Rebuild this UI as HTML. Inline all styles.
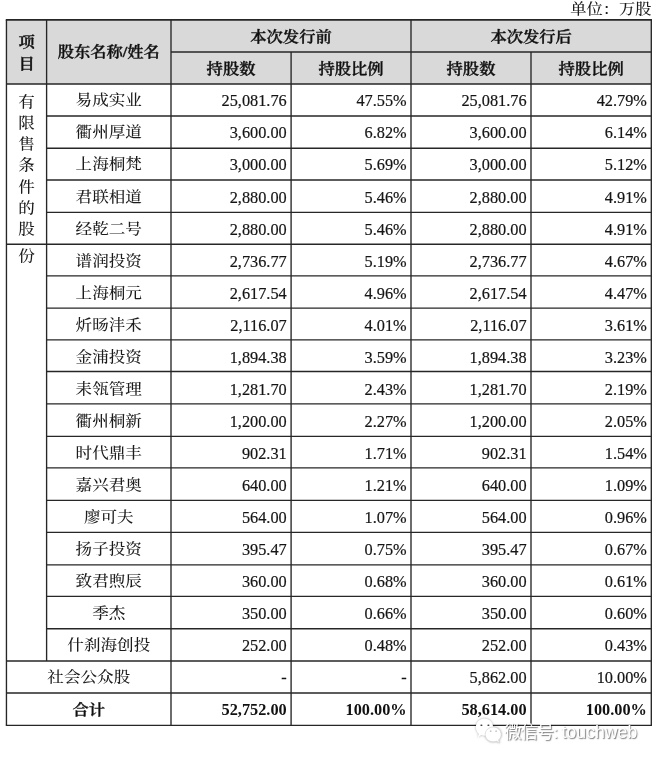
<!DOCTYPE html>
<html lang="zh-CN"><head><meta charset="utf-8"><title>股东持股表</title>
<style>
html,body{margin:0;padding:0;background:#fff;}
body{width:660px;height:761px;position:relative;overflow:hidden;
 font-family:"Liberation Serif","Noto Serif CJK SC",serif;font-size:16.3px;color:#222;}
#grid{position:absolute;left:0;top:0;}
.t{position:absolute;white-space:nowrap;line-height:22px;height:22px;}
.c{text-align:center;}
.r{text-align:right;}
.z{font-size:16.6px;font-weight:500;color:#1c1c1c;transform:scaleY(0.91);transform-origin:50% 9px;}
.b{font-weight:700;color:#111;}
.h{font-weight:600;-webkit-text-stroke:0.35px #111;transform:scaleY(0.94);transform-origin:50% 9px;}
.n{color:#151515;-webkit-text-stroke:0.2px #151515;}
.wm{position:absolute;white-space:nowrap;font-family:"Liberation Sans","Noto Sans CJK SC",sans-serif;}
</style></head><body>

<svg id="grid" width="660" height="761" viewBox="0 0 660 761">
<rect x="6.5" y="19.9" width="644.8" height="64.1" fill="#d9d9d9"/>
<line x1="5.78" y1="19.90" x2="651.97" y2="19.90" stroke="#262626" stroke-width="1.70"/>
<line x1="171.00" y1="52.00" x2="651.30" y2="52.00" stroke="#262626" stroke-width="1.70"/>
<line x1="6.45" y1="84.00" x2="651.30" y2="84.00" stroke="#262626" stroke-width="1.70"/>
<line x1="46.60" y1="116.00" x2="651.30" y2="116.00" stroke="#262626" stroke-width="1.35"/>
<line x1="46.60" y1="148.20" x2="651.30" y2="148.20" stroke="#262626" stroke-width="1.35"/>
<line x1="46.60" y1="180.00" x2="651.30" y2="180.00" stroke="#262626" stroke-width="1.35"/>
<line x1="46.60" y1="212.40" x2="651.30" y2="212.40" stroke="#262626" stroke-width="1.35"/>
<line x1="46.60" y1="244.20" x2="651.30" y2="244.20" stroke="#262626" stroke-width="1.35"/>
<line x1="46.60" y1="275.80" x2="651.30" y2="275.80" stroke="#262626" stroke-width="1.35"/>
<line x1="46.60" y1="308.10" x2="651.30" y2="308.10" stroke="#262626" stroke-width="1.35"/>
<line x1="46.60" y1="339.80" x2="651.30" y2="339.80" stroke="#262626" stroke-width="1.35"/>
<line x1="46.60" y1="371.50" x2="651.30" y2="371.50" stroke="#262626" stroke-width="1.35"/>
<line x1="46.60" y1="403.90" x2="651.30" y2="403.90" stroke="#262626" stroke-width="1.35"/>
<line x1="46.60" y1="436.30" x2="651.30" y2="436.30" stroke="#262626" stroke-width="1.35"/>
<line x1="46.60" y1="467.80" x2="651.30" y2="467.80" stroke="#262626" stroke-width="1.35"/>
<line x1="46.60" y1="500.30" x2="651.30" y2="500.30" stroke="#262626" stroke-width="1.35"/>
<line x1="46.60" y1="532.40" x2="651.30" y2="532.40" stroke="#262626" stroke-width="1.35"/>
<line x1="46.60" y1="564.80" x2="651.30" y2="564.80" stroke="#262626" stroke-width="1.35"/>
<line x1="46.60" y1="596.40" x2="651.30" y2="596.40" stroke="#262626" stroke-width="1.35"/>
<line x1="46.60" y1="628.70" x2="651.30" y2="628.70" stroke="#262626" stroke-width="1.35"/>
<line x1="6.45" y1="244.20" x2="46.60" y2="244.20" stroke="#262626" stroke-width="1.35"/>
<line x1="6.45" y1="661.00" x2="651.30" y2="661.00" stroke="#262626" stroke-width="1.35"/>
<line x1="6.45" y1="693.00" x2="651.30" y2="693.00" stroke="#262626" stroke-width="1.35"/>
<line x1="5.78" y1="725.30" x2="651.97" y2="725.30" stroke="#262626" stroke-width="1.35"/>
<line x1="6.45" y1="19.90" x2="6.45" y2="725.30" stroke="#262626" stroke-width="1.35"/>
<line x1="651.30" y1="19.90" x2="651.30" y2="725.30" stroke="#262626" stroke-width="1.35"/>
<line x1="46.60" y1="19.90" x2="46.60" y2="661.00" stroke="#262626" stroke-width="1.35"/>
<line x1="171.00" y1="19.90" x2="171.00" y2="725.30" stroke="#262626" stroke-width="1.35"/>
<line x1="411.00" y1="19.90" x2="411.00" y2="725.30" stroke="#262626" stroke-width="1.35"/>
<line x1="291.10" y1="52.00" x2="291.10" y2="725.30" stroke="#262626" stroke-width="1.35"/>
<line x1="531.00" y1="52.00" x2="531.00" y2="725.30" stroke="#262626" stroke-width="1.35"/>
</svg>
<div class="t r z" style="left:500.0px;width:151.6px;top:-1px;font-size:16.3px;">单位：万股</div>
<div class="t c b h" style="left:6.5px;width:40.1px;top:31px;">项</div>
<div class="t c b h" style="left:6.5px;width:40.1px;top:53px;">目</div>
<div class="t c b h" style="left:46.6px;width:124.4px;top:41px;">股东名称/姓名</div>
<div class="t c b h" style="left:171.0px;width:240.0px;top:26px;">本次发行前</div>
<div class="t c b h" style="left:411.0px;width:240.3px;top:26px;">本次发行后</div>
<div class="t c b h" style="left:171.0px;width:120.1px;top:58px;">持股数</div>
<div class="t c b h" style="left:291.1px;width:119.9px;top:58px;">持股比例</div>
<div class="t c b h" style="left:411.0px;width:120.0px;top:58px;">持股数</div>
<div class="t c b h" style="left:531.0px;width:120.3px;top:58px;">持股比例</div>
<div class="t c z" style="left:6.5px;width:40.1px;top:92px;">有</div>
<div class="t c z" style="left:6.5px;width:40.1px;top:113px;">限</div>
<div class="t c z" style="left:6.5px;width:40.1px;top:134px;">售</div>
<div class="t c z" style="left:6.5px;width:40.1px;top:155px;">条</div>
<div class="t c z" style="left:6.5px;width:40.1px;top:177px;">件</div>
<div class="t c z" style="left:6.5px;width:40.1px;top:198px;">的</div>
<div class="t c z" style="left:6.5px;width:40.1px;top:219px;">股</div>
<div class="t c z" style="left:6.5px;width:40.1px;top:246px;">份</div>
<div class="t c z" style="left:46.6px;width:124.4px;top:90px;">易成实业</div>
<div class="t r n" style="left:171.0px;width:115.7px;top:90px;">25,081.76</div>
<div class="t r n" style="left:291.1px;width:115.5px;top:90px;">47.55%</div>
<div class="t r n" style="left:411.0px;width:115.6px;top:90px;">25,081.76</div>
<div class="t r n" style="left:531.0px;width:115.9px;top:90px;">42.79%</div>
<div class="t c z" style="left:46.6px;width:124.4px;top:122px;">衢州厚道</div>
<div class="t r n" style="left:171.0px;width:115.7px;top:122px;">3,600.00</div>
<div class="t r n" style="left:291.1px;width:115.5px;top:122px;">6.82%</div>
<div class="t r n" style="left:411.0px;width:115.6px;top:122px;">3,600.00</div>
<div class="t r n" style="left:531.0px;width:115.9px;top:122px;">6.14%</div>
<div class="t c z" style="left:46.6px;width:124.4px;top:154px;">上海桐梵</div>
<div class="t r n" style="left:171.0px;width:115.7px;top:154px;">3,000.00</div>
<div class="t r n" style="left:291.1px;width:115.5px;top:154px;">5.69%</div>
<div class="t r n" style="left:411.0px;width:115.6px;top:154px;">3,000.00</div>
<div class="t r n" style="left:531.0px;width:115.9px;top:154px;">5.12%</div>
<div class="t c z" style="left:46.6px;width:124.4px;top:187px;">君联相道</div>
<div class="t r n" style="left:171.0px;width:115.7px;top:187px;">2,880.00</div>
<div class="t r n" style="left:291.1px;width:115.5px;top:187px;">5.46%</div>
<div class="t r n" style="left:411.0px;width:115.6px;top:187px;">2,880.00</div>
<div class="t r n" style="left:531.0px;width:115.9px;top:187px;">4.91%</div>
<div class="t c z" style="left:46.6px;width:124.4px;top:219px;">经乾二号</div>
<div class="t r n" style="left:171.0px;width:115.7px;top:219px;">2,880.00</div>
<div class="t r n" style="left:291.1px;width:115.5px;top:219px;">5.46%</div>
<div class="t r n" style="left:411.0px;width:115.6px;top:219px;">2,880.00</div>
<div class="t r n" style="left:531.0px;width:115.9px;top:219px;">4.91%</div>
<div class="t c z" style="left:46.6px;width:124.4px;top:251px;">谱润投资</div>
<div class="t r n" style="left:171.0px;width:115.7px;top:251px;">2,736.77</div>
<div class="t r n" style="left:291.1px;width:115.5px;top:251px;">5.19%</div>
<div class="t r n" style="left:411.0px;width:115.6px;top:251px;">2,736.77</div>
<div class="t r n" style="left:531.0px;width:115.9px;top:251px;">4.67%</div>
<div class="t c z" style="left:46.6px;width:124.4px;top:283px;">上海桐元</div>
<div class="t r n" style="left:171.0px;width:115.7px;top:283px;">2,617.54</div>
<div class="t r n" style="left:291.1px;width:115.5px;top:283px;">4.96%</div>
<div class="t r n" style="left:411.0px;width:115.6px;top:283px;">2,617.54</div>
<div class="t r n" style="left:531.0px;width:115.9px;top:283px;">4.47%</div>
<div class="t c z" style="left:46.6px;width:124.4px;top:315px;">炘旸沣禾</div>
<div class="t r n" style="left:171.0px;width:115.7px;top:315px;">2,116.07</div>
<div class="t r n" style="left:291.1px;width:115.5px;top:315px;">4.01%</div>
<div class="t r n" style="left:411.0px;width:115.6px;top:315px;">2,116.07</div>
<div class="t r n" style="left:531.0px;width:115.9px;top:315px;">3.61%</div>
<div class="t c z" style="left:46.6px;width:124.4px;top:347px;">金浦投资</div>
<div class="t r n" style="left:171.0px;width:115.7px;top:347px;">1,894.38</div>
<div class="t r n" style="left:291.1px;width:115.5px;top:347px;">3.59%</div>
<div class="t r n" style="left:411.0px;width:115.6px;top:347px;">1,894.38</div>
<div class="t r n" style="left:531.0px;width:115.9px;top:347px;">3.23%</div>
<div class="t c z" style="left:46.6px;width:124.4px;top:379px;">耒瓴管理</div>
<div class="t r n" style="left:171.0px;width:115.7px;top:379px;">1,281.70</div>
<div class="t r n" style="left:291.1px;width:115.5px;top:379px;">2.43%</div>
<div class="t r n" style="left:411.0px;width:115.6px;top:379px;">1,281.70</div>
<div class="t r n" style="left:531.0px;width:115.9px;top:379px;">2.19%</div>
<div class="t c z" style="left:46.6px;width:124.4px;top:411px;">衢州桐新</div>
<div class="t r n" style="left:171.0px;width:115.7px;top:411px;">1,200.00</div>
<div class="t r n" style="left:291.1px;width:115.5px;top:411px;">2.27%</div>
<div class="t r n" style="left:411.0px;width:115.6px;top:411px;">1,200.00</div>
<div class="t r n" style="left:531.0px;width:115.9px;top:411px;">2.05%</div>
<div class="t c z" style="left:46.6px;width:124.4px;top:443px;">时代鼎丰</div>
<div class="t r n" style="left:171.0px;width:115.7px;top:443px;">902.31</div>
<div class="t r n" style="left:291.1px;width:115.5px;top:443px;">1.71%</div>
<div class="t r n" style="left:411.0px;width:115.6px;top:443px;">902.31</div>
<div class="t r n" style="left:531.0px;width:115.9px;top:443px;">1.54%</div>
<div class="t c z" style="left:46.6px;width:124.4px;top:475px;">嘉兴君奥</div>
<div class="t r n" style="left:171.0px;width:115.7px;top:475px;">640.00</div>
<div class="t r n" style="left:291.1px;width:115.5px;top:475px;">1.21%</div>
<div class="t r n" style="left:411.0px;width:115.6px;top:475px;">640.00</div>
<div class="t r n" style="left:531.0px;width:115.9px;top:475px;">1.09%</div>
<div class="t c z" style="left:46.6px;width:124.4px;top:507px;">廖可夫</div>
<div class="t r n" style="left:171.0px;width:115.7px;top:507px;">564.00</div>
<div class="t r n" style="left:291.1px;width:115.5px;top:507px;">1.07%</div>
<div class="t r n" style="left:411.0px;width:115.6px;top:507px;">564.00</div>
<div class="t r n" style="left:531.0px;width:115.9px;top:507px;">0.96%</div>
<div class="t c z" style="left:46.6px;width:124.4px;top:539px;">扬子投资</div>
<div class="t r n" style="left:171.0px;width:115.7px;top:539px;">395.47</div>
<div class="t r n" style="left:291.1px;width:115.5px;top:539px;">0.75%</div>
<div class="t r n" style="left:411.0px;width:115.6px;top:539px;">395.47</div>
<div class="t r n" style="left:531.0px;width:115.9px;top:539px;">0.67%</div>
<div class="t c z" style="left:46.6px;width:124.4px;top:571px;">致君煦辰</div>
<div class="t r n" style="left:171.0px;width:115.7px;top:571px;">360.00</div>
<div class="t r n" style="left:291.1px;width:115.5px;top:571px;">0.68%</div>
<div class="t r n" style="left:411.0px;width:115.6px;top:571px;">360.00</div>
<div class="t r n" style="left:531.0px;width:115.9px;top:571px;">0.61%</div>
<div class="t c z" style="left:46.6px;width:124.4px;top:603px;">季杰</div>
<div class="t r n" style="left:171.0px;width:115.7px;top:603px;">350.00</div>
<div class="t r n" style="left:291.1px;width:115.5px;top:603px;">0.66%</div>
<div class="t r n" style="left:411.0px;width:115.6px;top:603px;">350.00</div>
<div class="t r n" style="left:531.0px;width:115.9px;top:603px;">0.60%</div>
<div class="t c z" style="left:46.6px;width:124.4px;top:635px;">什刹海创投</div>
<div class="t r n" style="left:171.0px;width:115.7px;top:635px;">252.00</div>
<div class="t r n" style="left:291.1px;width:115.5px;top:635px;">0.48%</div>
<div class="t r n" style="left:411.0px;width:115.6px;top:635px;">252.00</div>
<div class="t r n" style="left:531.0px;width:115.9px;top:635px;">0.43%</div>
<div class="t c z" style="left:6.5px;width:164.6px;top:667px;">社会公众股</div>
<div class="t r n" style="left:171.0px;width:115.7px;top:667px;">-</div>
<div class="t r n" style="left:291.1px;width:115.5px;top:667px;">-</div>
<div class="t r n" style="left:411.0px;width:115.6px;top:667px;">5,862.00</div>
<div class="t r n" style="left:531.0px;width:115.9px;top:667px;">10.00%</div>
<div class="t c b h" style="left:6.5px;width:164.6px;top:699px;">合计</div>
<div class="t r b" style="left:171.0px;width:115.7px;top:699px;">52,752.00</div>
<div class="t r b" style="left:291.1px;width:115.5px;top:699px;">100.00%</div>
<div class="t r b" style="left:411.0px;width:115.6px;top:699px;">58,614.00</div>
<div class="t r b" style="left:531.0px;width:115.9px;top:699px;">100.00%</div>
<svg id="wx" width="44" height="36" viewBox="468 714 44 36" style="position:absolute;left:468px;top:714px;filter:drop-shadow(0.8px 0.8px 0.8px rgba(0,0,0,.33));">
<path d="M484.5 718.6c4.8 0 8.6 3.8 8.6 8.5s-3.8 8.6-8.6 8.6c-1.2 0-2.3-.2-3.300-.6l-3.400 2.500 1-3.700c-1.800-1.600-2.900-4-2.900-6.800 0-4.700 3.800-8.500 8.600-8.500z" fill="#fff"/>
<path d="M493.200 727c4.400 0 8 3.300 8 7.400 0 2.200-1 4.100-2.600 5.500l.9 3-3-1.700c-1 .4-2.100.6-3.300.6-4.400 0-8-3.300-8-7.400s3.600-7.400 8-7.400z" fill="#fff" stroke="#d2d2d2" stroke-width="0.7"/>
</svg>
<svg width="44" height="36" viewBox="468 714 44 36" style="position:absolute;left:468px;top:714px;">
<ellipse cx="481.4" cy="725.3" rx="1.1" ry="0.75" fill="#333"/><ellipse cx="488.4" cy="725.3" rx="1.1" ry="0.75" fill="#333"/>
<circle cx="490.7" cy="731.2" r="0.9" fill="#c8c8c8"/><circle cx="496.1" cy="731.2" r="0.9" fill="#c8c8c8"/>
</svg>
<div class="wm" style="left:504.5px;top:720px;font-size:17px;line-height:24px;color:#fff;text-shadow:0.9px 0.9px 1.2px rgba(0,0,0,.55);word-spacing:-1.3px;"><span style="letter-spacing:-0.7px">微信号</span>: <span style="font-size:17.7px">touchweb</span></div>
</body></html>
